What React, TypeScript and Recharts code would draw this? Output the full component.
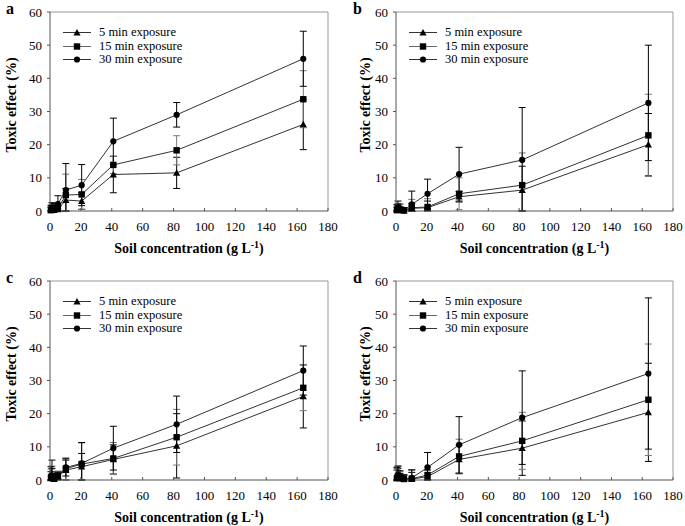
import React from 'react';
import { LineChart, Line, XAxis, YAxis, ErrorBar, ReferenceLine, Legend } from 'recharts';

// Soil concentration (g L-1)
const concentrations = [0.64, 1.28, 2.56, 5.12, 10.25, 20.5, 41, 82, 164];
const xTicks = [0, 20, 40, 60, 80, 100, 120, 140, 160, 180];
const yTicks = [0, 10, 20, 30, 40, 50, 60];
const seriesNames = ['5 min exposure', '15 min exposure', '30 min exposure'];

// Panel a
const a5 = [0.2, 0.3, 0.3, 0.5, 3.3, 3.0, 11.0, 11.5, 26.1];
const a5Err = [0.8, 1.0, 0.8, 1.0, 3.5, 2.5, 5.5, 4.7, 7.6];
const a15 = [0.3, 0.8, 0.6, 0.8, 4.8, 5.0, 13.9, 18.3, 33.7];
const a15Err = [1.0, 1.2, 1.0, 1.5, 6.3, 4.5, 2.6, 4.4, 8.6];
const a30 = [0.5, 1.0, 1.0, 2.1, 6.3, 7.8, 21.0, 29.0, 45.9];
const a30Err = [1.2, 1.5, 1.3, 2.5, 8.0, 6.2, 7.0, 3.7, 8.3];

// Panel b
const b5 = [0.2, 0.5, 0.3, 0.1, 0.8, 1.0, 4.3, 6.3, 20.0];
const b5Err = [1.0, 1.2, 1.0, 0.5, 1.5, 2.0, 1.6, 7.2, 9.4];
const b15 = [0.3, 0.8, 0.4, 0.2, 1.0, 1.2, 5.2, 7.8, 22.8];
const b15Err = [1.2, 1.5, 1.0, 0.6, 2.5, 2.5, 4.8, 9.7, 12.4];
const b30 = [0.5, 1.0, 0.6, 0.2, 2.0, 5.2, 11.1, 15.4, 32.6];
const b30Err = [1.5, 2.0, 1.5, 0.8, 4.0, 4.4, 8.1, 15.8, 17.4];

// Panel c
const c5 = [0.5, 1.5, 0.3, 1.0, 3.0, 4.0, 6.2, 10.3, 25.2];
const c5Err = [2.0, 4.5, 1.0, 1.5, 3.0, 4.0, 4.4, 9.7, 9.5];
const c15 = [0.8, 1.2, 0.4, 1.2, 3.4, 4.8, 6.5, 12.9, 27.8];
const c15Err = [2.5, 3.0, 1.2, 1.5, 3.3, 6.4, 4.8, 8.4, 6.9];
const c30 = [1.0, 1.0, 0.5, 1.3, 3.8, 5.0, 9.6, 16.8, 33.0];
const c30Err = [3.0, 2.5, 1.5, 1.0, 2.6, 6.3, 6.6, 8.5, 7.4];

// Panel d
const d5 = [0.5, 1.0, 0.5, 0.3, 0.3, 1.0, 6.2, 9.6, 20.4];
const d5Err = [2.5, 2.5, 1.5, 1.0, 2.0, 2.0, 4.3, 8.2, 14.8];
const d15 = [0.6, 1.2, 0.7, 0.3, 0.4, 1.5, 7.1, 11.8, 24.2];
const d15Err = [3.0, 3.0, 1.8, 1.2, 2.5, 2.5, 5.2, 8.6, 16.8];
const d30 = [0.8, 1.5, 0.8, 0.4, 0.6, 3.8, 10.6, 18.8, 32.1];
const d30Err = [3.0, 2.7, 2.0, 1.2, 2.5, 4.5, 8.5, 14.1, 22.8];

const SERIF = '"Liberation Serif", "Times New Roman", serif';

type Shape = 'triangle' | 'square' | 'circle';

function buildRows(s5: number[], e5: number[], s15: number[], e15: number[], s30: number[], e30: number[]) {
  return concentrations.map((x, i) => ({
    x,
    v5: s5[i],
    e5: [Math.min(e5[i], s5[i]), e5[i]],
    v15: s15[i],
    e15: [Math.min(e15[i], s15[i]), e15[i]],
    v30: s30[i],
    e30: [Math.min(e30[i], s30[i]), e30[i]],
  }));
}

function Marker({ shape, cx, cy }: { shape: Shape; cx: number; cy: number }) {
  if (shape === 'triangle') {
    const s = 3.6;
    return <path d={`M${cx},${cy - s} L${cx + s},${cy + s * 0.8} L${cx - s},${cy + s * 0.8} Z`} fill="#000" />;
  }
  if (shape === 'square') {
    const s = 3.2;
    return <rect x={cx - s} y={cy - s} width={2 * s} height={2 * s} fill="#000" />;
  }
  return <circle cx={cx} cy={cy} r={3.1} fill="#000" />;
}

const makeDot = (shape: Shape) => (p: any) => {
  if (p.cx == null || p.cy == null) return <g key={`${shape}-${p.index}`} />;
  return (
    <g key={`${shape}-${p.index}`}>
      <Marker shape={shape} cx={p.cx} cy={p.cy} />
    </g>
  );
};

const shapeFor: Record<string, Shape> = { v5: 'triangle', v15: 'square', v30: 'circle' };
const seriesOrder = ['v5', 'v15', 'v30'];

function LegendContent(props: any) {
  const payload = [...(props.payload || [])].sort(
    (p: any, q: any) => seriesOrder.indexOf(p.dataKey) - seriesOrder.indexOf(q.dataKey)
  );
  return (
    <div style={{ fontFamily: SERIF, fontSize: 12.5, color: '#000', lineHeight: '13.5px' }}>
      {payload.map((entry: any) => (
        <div key={entry.value} style={{ display: 'flex', alignItems: 'center', height: 13.5, whiteSpace: 'nowrap' }}>
          <svg width={30} height={13} style={{ display: 'block' }}>
            <line x1={0} y1={6.5} x2={28} y2={6.5} stroke={entry.dataKey === 'v15' ? '#666' : '#333'} strokeWidth={1} />
            <Marker shape={shapeFor[entry.dataKey] || 'circle'} cx={14} cy={6.5} />
          </svg>
          <span style={{ marginLeft: 6 }}>{entry.value}</span>
        </div>
      ))}
    </div>
  );
}

type PanelDef = {
  letter: string;
  left: number;
  top: number;
  width: number;
  titleGap: number;
  rows: ReturnType<typeof buildRows>;
};

const PLOT_LEFT = 50; // margin.left + y-axis width
const MARGIN = { top: 12, right: 12, bottom: 19, left: 10 };

const panels: PanelDef[] = [
  { letter: 'a', left: 0, top: 0, width: 340, titleGap: 34, rows: buildRows(a5, a5Err, a15, a15Err, a30, a30Err) },
  { letter: 'b', left: 346, top: 0, width: 339, titleGap: 26, rows: buildRows(b5, b5Err, b15, b15Err, b30, b30Err) },
  { letter: 'c', left: 0, top: 269, width: 340, titleGap: 34, rows: buildRows(c5, c5Err, c15, c15Err, c30, c30Err) },
  { letter: 'd', left: 346, top: 269, width: 339, titleGap: 26, rows: buildRows(d5, d5Err, d15, d15Err, d30, d30Err) },
];

function Panel({ def }: { def: PanelDef }) {
  const tickStyle = { fill: '#000', fontSize: 13, fontFamily: SERIF };
  return (
    <div style={{ position: 'absolute', left: def.left, top: def.top }}>
      <LineChart width={def.width} height={260} data={def.rows} margin={MARGIN}>
        <XAxis
          dataKey="x"
          type="number"
          domain={[0, 180]}
          ticks={xTicks}
          interval={0}
          height={30}
          stroke="#555"
          tickSize={-3}
          tickMargin={14}
          tick={tickStyle}
          label={{
            content: (p: any) => {
              const vb = p.viewBox || {};
              return (
                <text
                  x={vb.x + vb.width / 2}
                  y={vb.y + 42}
                  textAnchor="middle"
                  fontFamily={SERIF}
                  fontSize={14}
                  fontWeight="bold"
                  fill="#000"
                >
                  Soil concentration (g L
                  <tspan dy={-5} fontSize={10}>-1</tspan>
                  <tspan dy={5}>)</tspan>
                </text>
              );
            },
          }}
        />
        <YAxis
          type="number"
          domain={[0, 60]}
          ticks={yTicks}
          interval={0}
          width={40}
          stroke="#555"
          tickSize={3}
          tickMargin={5}
          tick={tickStyle}
          label={{
            content: (p: any) => {
              const vb = p.viewBox || {};
              const cx = vb.x + vb.width - def.titleGap;
              const cy = vb.y + 93;
              return (
                <text
                  x={cx}
                  y={cy}
                  transform={`rotate(-90 ${cx} ${cy})`}
                  textAnchor="middle"
                  fontFamily={SERIF}
                  fontSize={14}
                  fontWeight="bold"
                  fill="#000"
                >
                  Toxic effect (%)
                </text>
              );
            },
          }}
        />
        <ReferenceLine y={60} stroke="#999" strokeWidth={1} />
        <ReferenceLine x={180} stroke="#999" strokeWidth={1} />
        <Line dataKey="v5" name={seriesNames[0]} stroke="#333" strokeWidth={1} dot={makeDot('triangle')} activeDot={false} isAnimationActive={false}>
          <ErrorBar dataKey="e5" direction="y" width={3.5} stroke="#000" strokeWidth={1} />
        </Line>
        <Line dataKey="v15" name={seriesNames[1]} stroke="#333" strokeWidth={1} dot={makeDot('square')} activeDot={false} isAnimationActive={false}>
          <ErrorBar dataKey="e15" direction="y" width={3.5} stroke="#777" strokeWidth={1} />
        </Line>
        <Line dataKey="v30" name={seriesNames[2]} stroke="#333" strokeWidth={1} dot={makeDot('circle')} activeDot={false} isAnimationActive={false}>
          <ErrorBar dataKey="e30" direction="y" width={3.5} stroke="#000" strokeWidth={1} />
        </Line>
        <Legend
          layout="vertical"
          align="center"
          verticalAlign="middle"
          itemSorter={null as any}
          content={LegendContent}
          wrapperStyle={{ position: 'absolute', left: PLOT_LEFT + 13, top: MARGIN.top + 14, width: 'auto', height: 'auto' }}
        />
      </LineChart>
    </div>
  );
}

export default function App() {
  return (
    <div style={{ position: 'absolute', left: 0, top: 0, width: 685, height: 526, background: '#fff', overflow: 'hidden' }}>
      {panels.map((p) => (
        <Panel key={p.letter} def={p} />
      ))}
      <svg width={685} height={526} style={{ position: 'absolute', left: 0, top: 0, pointerEvents: 'none' }}>
        {panels.map((p) => (
          <text
            key={p.letter}
            x={p.left + (p.letter === 'a' || p.letter === 'c' ? 6 : 7)}
            y={p.top + 14}
            fontFamily={SERIF}
            fontSize={16}
            fontWeight="bold"
            fill="#000"
          >
            {p.letter}
          </text>
        ))}
      </svg>
    </div>
  );
}
